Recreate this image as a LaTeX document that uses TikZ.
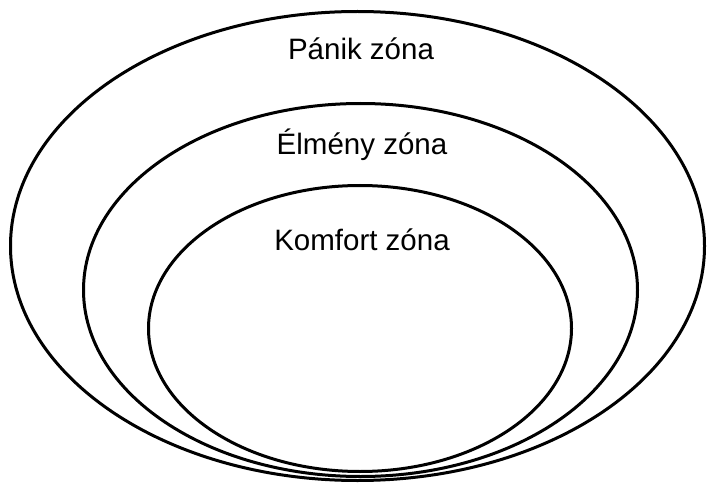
\documentclass[tikz,border=0pt]{standalone}
\usepackage{fontspec}
\setmainfont{Liberation Sans}
\tikzset{
  zone/.style={draw = black, line width = 3pt},
  zonelabel/.style={anchor = base, text = black, font = \fontsize{29.5}{34}\selectfont}
}
\begin{document}
\begin{tikzpicture}[x = 1pt, y = -1pt]
\useasboundingbox (0, 0) rectangle (707, 484);
% outer to inner
\draw[zone] (357.5, 246) ellipse [x radius = 347, y radius = 234.5];
\draw[zone] (360.5, 290) ellipse [x radius = 277, y radius = 186.5];
\draw[zone] (360, 328.5) ellipse [x radius = 211.5, y radius = 143];
\node[zonelabel] (panik) at (361, 60) {Pánik zóna};
\node[zonelabel] (elmeny) at (362, 154) {Élmény zóna};
\node[zonelabel] (komfort) at (362, 250) {Komfort zóna};
\end{tikzpicture}
\end{document}
